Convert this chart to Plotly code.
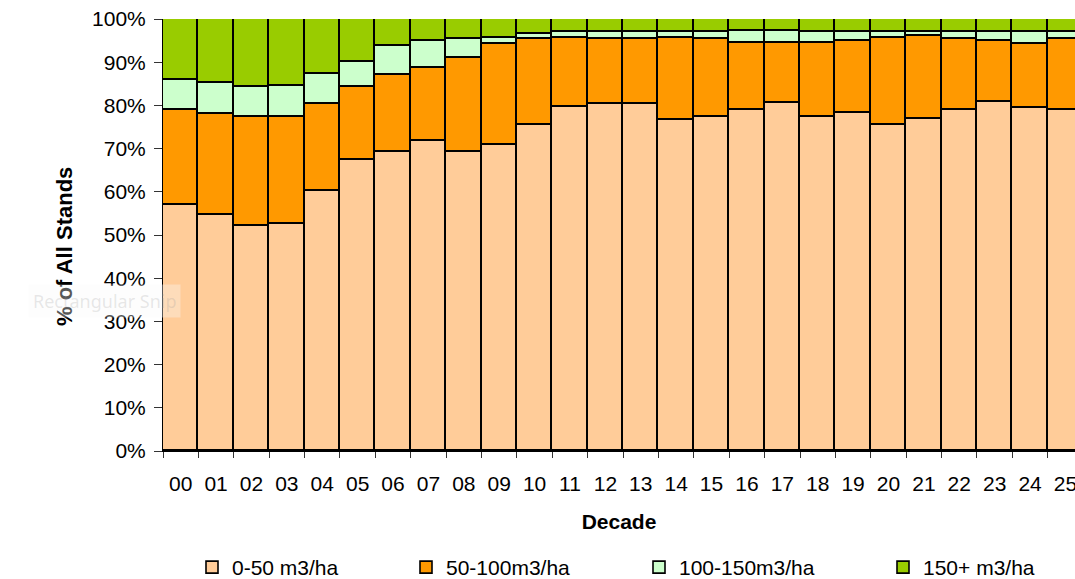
import plotly.graph_objects as go

# Decade labels along the x axis
decades = ["00", "01", "02", "03", "04", "05", "06", "07", "08", "09",
           "10", "11", "12", "13", "14", "15", "16", "17", "18", "19",
           "20", "21", "22", "23", "24", "25"]

# Share of all stands (%) in each volume class, per decade
vol_0_50 = [56.9, 54.6, 52.2, 52.5, 60.2, 67.3, 69.3, 71.8, 69.3, 70.8,
            75.4, 79.7, 80.4, 80.4, 76.6, 77.4, 78.9, 80.5, 77.4, 78.2,
            75.4, 76.9, 78.9, 80.9, 79.4, 78.9]
vol_50_100 = [22.0, 23.5, 25.2, 24.9, 20.2, 17.0, 17.7, 16.8, 21.6, 23.4,
              20.0, 15.8, 15.0, 15.0, 18.9, 18.0, 15.5, 13.9, 17.0, 16.7,
              20.3, 19.2, 16.5, 14.0, 14.7, 16.5]
vol_100_150 = [6.9, 7.0, 6.9, 7.1, 6.9, 5.8, 6.8, 6.3, 4.5, 1.3,
               1.1, 1.5, 1.6, 1.6, 1.5, 1.6, 2.8, 2.8, 2.7, 2.2,
               1.4, 1.0, 1.7, 2.2, 3.0, 1.7]
vol_150_plus = [14.2, 14.9, 15.7, 15.5, 12.7, 9.9, 6.2, 5.1, 4.6, 4.5,
                3.5, 3.0, 3.0, 3.0, 3.0, 3.0, 2.8, 2.8, 2.9, 2.9,
                2.9, 2.9, 2.9, 2.9, 2.9, 2.9]

series = [
    ("0-50 m3/ha", vol_0_50, "#FFCC99", "legend", 207),
    ("50-100m3/ha", vol_50_100, "#FF9900", "legend2", 421),
    ("100-150m3/ha", vol_100_150, "#CCFFCC", "legend3", 654),
    ("150+ m3/ha", vol_150_plus, "#99CC00", "legend4", 898),
]

FONT = "Liberation Sans, Arial, sans-serif"
W, H = 1075, 579
ML, MR, MT, MB = 163, 0, 19, 128
plot_w = W - ML - MR
plot_h = H - MT - MB

fig = go.Figure()
legends = {}
for name, vals, color, leg, px in series:
    fig.add_trace(go.Bar(
        x=decades, y=vals, name=name, legend=leg,
        marker=dict(color=color, line=dict(color="black", width=1.6)),
        cliponaxis=False,
    ))
    legends[leg] = dict(
        x=(px - 15 - ML) / plot_w, xanchor="left",
        y=(MT + plot_h - 567.5) / plot_h, yanchor="middle",
        orientation="h", bgcolor="rgba(0,0,0,0)",
        font=dict(family=FONT, size=21, color="black"),
        itemwidth=30, tracegroupgap=0,
    )

fig.update_layout(
    width=W, height=H,
    margin=dict(l=ML, r=MR, t=MT, b=MB, autoexpand=False),
    barmode="stack", bargap=0,
    plot_bgcolor="white", paper_bgcolor="white",
    font=dict(family=FONT, size=21, color="black"),
    showlegend=True,
    **legends,
)

fig.update_xaxes(
    type="category", range=[-0.5, 25.27],
    showgrid=False, showline=True, linecolor="black", linewidth=1,
    ticks="outside", tickson="boundaries", ticklen=6, tickcolor="#333",
    ticklabelstandoff=14,
    tickfont=dict(family=FONT, size=21, color="black"),
    title=dict(text="<b>Decade</b>", standoff=20,
               font=dict(family=FONT, size=21, color="black")),
)
fig.update_yaxes(
    range=[0, 100], tickvals=list(range(0, 101, 10)),
    ticktext=[f"{v}%" for v in range(0, 101, 10)],
    showgrid=False, showline=True, linecolor="black", linewidth=1,
    ticks="outside", ticklen=8, tickcolor="#333", ticklabelstandoff=4,
    tickfont=dict(family=FONT, size=21, color="black"),
    zeroline=False,
)

# y-axis title, set a little below the plot's mid-height
fig.add_annotation(
    text="<b>% of All Stands</b>", xref="paper", yref="paper",
    x=(64 - ML) / plot_w, xanchor="center",
    y=(MT + plot_h - 247) / plot_h, yanchor="middle",
    textangle=-90, showarrow=False,
    font=dict(family=FONT, size=22, color="black"),
)

# faint screen-capture tool caption over the left edge
fig.add_annotation(
    text="Rectangular Snip", xref="paper", yref="paper",
    x=(28 - ML) / plot_w, xanchor="left",
    y=(MT + plot_h - 301) / plot_h, yanchor="middle",
    showarrow=False,
    font=dict(family="Noto Sans, sans-serif", size=18, color="rgba(150,150,150,0.22)"),
    bgcolor="rgba(250,250,250,0.35)", borderpad=4,
)

fig.write_html("out.html")
